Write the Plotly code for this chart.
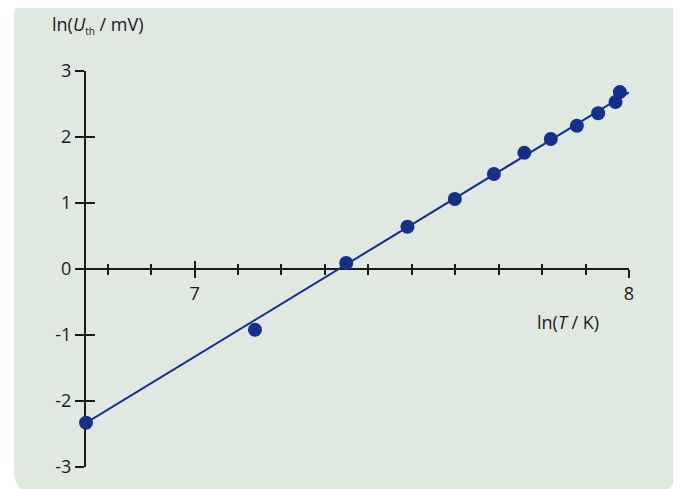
import plotly.graph_objects as go

# ---- data ----
ln_T = [6.75, 7.139, 7.349, 7.490, 7.599, 7.689, 7.759, 7.820, 7.880, 7.929, 7.969, 7.979]
ln_U = [-2.33, -0.92, 0.09, 0.64, 1.06, 1.44, 1.76, 1.97, 2.17, 2.36, 2.53, 2.68]
fit_slope = 4.005
fit_intercept = -29.364
fit_x = [6.75, 8.0]
fit_y = [fit_slope * x + fit_intercept for x in fit_x]

x_major_vals = [7, 8]
x_major_text = ["7", "8"]
x_minor_step = 0.1
y_tick_vals = [-3, -2, -1, 0, 1, 2, 3]
y_tick_text = ["-3", "-2", "-1", "0", "1", "2", "3"]

x_range = [6.75, 8.0]
y_range = [-3, 3]

# ---- layout geometry (pixels, in window coordinates; page body has 8px margin) ----
OFF = 8
W, H = 681 - OFF, 489 - OFF
ML, MT = 86 - OFF, 71 - OFF
PW, PH = 543, 396
MR, MB = W - ML - PW, H - MT - PH


def px(xp):
    return (xp - OFF - ML) / PW


def py(yp):
    return (MT + PH - (yp - OFF)) / PH


INK = "#1a1a1a"
BLUE = "#16308a"
BG = "#dfe8e1"
FONT = "Open Sans, Noto Sans, sans-serif"
FS = 18

# rounded background panel
L, R, T, B, r = 14, 676, -4, 493, 22
path = (
    f"M {px(L + r)},{py(T)} L {px(R - r)},{py(T)} "
    f"Q {px(R)},{py(T)} {px(R)},{py(T + r)} "
    f"L {px(R)},{py(B - r)} Q {px(R)},{py(B)} {px(R - r)},{py(B)} "
    f"L {px(L + r)},{py(B)} Q {px(L)},{py(B)} {px(L)},{py(B - r)} "
    f"L {px(L)},{py(T + r)} Q {px(L)},{py(T)} {px(L + r)},{py(T)} Z"
)

fig = go.Figure()
fig.add_trace(go.Scatter(
    x=fit_x, y=fit_y, mode="lines",
    line=dict(color=BLUE, width=2), hoverinfo="skip", showlegend=False,
))
fig.add_trace(go.Scatter(
    x=ln_T, y=ln_U, mode="markers",
    marker=dict(color=BLUE, size=14, line=dict(width=0)),
    cliponaxis=False, showlegend=False,
))
# empty trace so the overlay axes (ticks on the other side) are drawn
fig.add_trace(go.Scatter(x=[], y=[], xaxis="x2", yaxis="y2", showlegend=False, hoverinfo="skip"))

common_x = dict(range=x_range, showgrid=False, zeroline=False, layer="below traces")
common_y = dict(range=y_range, showgrid=False, zeroline=False, layer="below traces")

fig.update_layout(
    width=W, height=H, autosize=False,
    margin=dict(l=ML, r=MR, t=MT, b=MB, pad=0),
    paper_bgcolor="white", plot_bgcolor="rgba(0,0,0,0)",
    font=dict(family=FONT, size=FS, color=INK),
    xaxis=dict(
        **common_x, anchor="free", position=0.5,
        showline=True, linecolor=INK, linewidth=2,
        tickmode="array", tickvals=x_major_vals, ticktext=x_major_text,
        ticks="outside", ticklen=8, tickwidth=2, tickcolor=INK,
        minor=dict(ticks="outside", ticklen=5, tickwidth=2, tickcolor=INK,
                   tick0=7, dtick=x_minor_step),
        tickfont=dict(family=FONT, size=FS, color=INK),
    ),
    xaxis2=dict(
        **common_x, overlaying="x", matches="x", anchor="free", position=0.5,
        showline=False, showticklabels=False,
        tickmode="array", tickvals=x_major_vals,
        ticks="inside", ticklen=8, tickwidth=2, tickcolor=INK,
        minor=dict(ticks="inside", ticklen=5, tickwidth=2, tickcolor=INK,
                   tick0=7, dtick=x_minor_step),
    ),
    yaxis=dict(
        **common_y, anchor="x",
        showline=True, linecolor=INK, linewidth=2,
        tickmode="array", tickvals=y_tick_vals, ticktext=y_tick_text,
        ticks="outside", ticklen=9, tickwidth=2, tickcolor=INK,
        tickfont=dict(family=FONT, size=FS, color=INK),
    ),
    yaxis2=dict(
        **common_y, overlaying="y", matches="y", anchor="x", side="left",
        showline=False, showticklabels=False,
        tickmode="array", tickvals=y_tick_vals,
        ticks="inside", ticklen=9, tickwidth=2, tickcolor=INK,
    ),
    shapes=[dict(type="path", path=path, xref="paper", yref="paper",
                 fillcolor=BG, line=dict(width=0), layer="below")],
    annotations=[
        dict(text="ln(<i>U</i><sub><span style='font-size:10px'>th</span></sub> / mV)",
             xref="paper", yref="paper",
             x=px(50), y=py(25), xanchor="left", yanchor="middle", showarrow=False,
             font=dict(family=FONT, size=FS, color=INK)),
        dict(text="ln(<i>T</i> / K)", xref="paper", yref="paper",
             x=px(601), y=py(322), xanchor="right", yanchor="middle", showarrow=False,
             font=dict(family=FONT, size=FS, color=INK)),
    ],
)

fig.write_html("out.html")
